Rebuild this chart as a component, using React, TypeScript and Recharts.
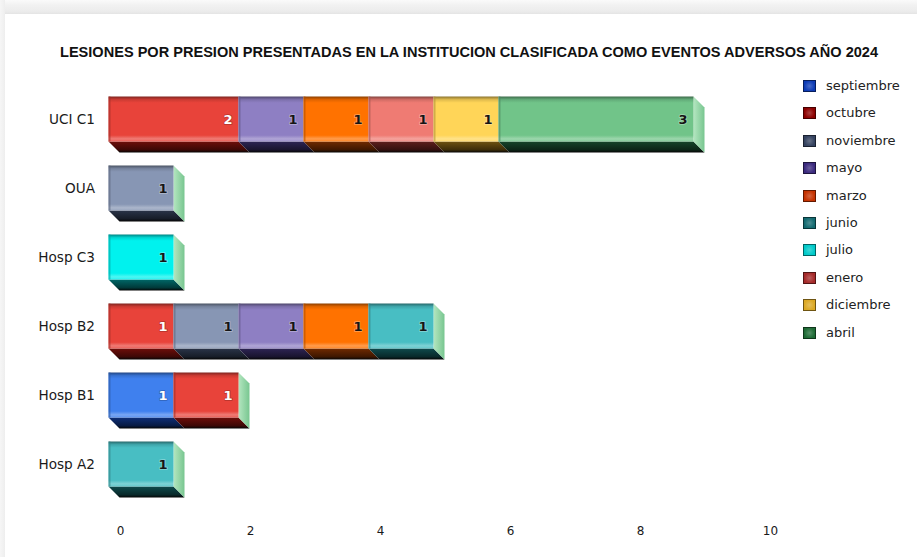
import React from "react";
import { BarChart, Bar, XAxis, YAxis } from "recharts";

// Pressure-injury events per service, broken down by month of occurrence.
const categories = ["UCI C1", "OUA", "Hosp C3", "Hosp B2", "Hosp B1", "Hosp A2"];
const months = [
  "septiembre",
  "octubre",
  "noviembre",
  "mayo",
  "marzo",
  "junio",
  "julio",
  "enero",
  "diciembre",
  "abril",
];

// values per month, in the same order as `categories`
const septiembre = [0, 0, 0, 0, 1, 0];
const octubre = [2, 0, 0, 1, 1, 0];
const noviembre = [0, 1, 0, 1, 0, 0];
const mayo = [1, 0, 0, 1, 0, 0];
const marzo = [1, 0, 0, 1, 0, 0];
const junio = [0, 0, 0, 1, 0, 1];
const julio = [0, 0, 1, 0, 0, 0];
const enero = [1, 0, 0, 0, 0, 0];
const diciembre = [1, 0, 0, 0, 0, 0];
const abril = [3, 0, 0, 0, 0, 0];

const xTicks = [0, 2, 4, 6, 8, 10];

const seriesValues: Record<string, number[]> = {
  septiembre,
  octubre,
  noviembre,
  mayo,
  marzo,
  junio,
  julio,
  enero,
  diciembre,
  abril,
};

const data = categories.map((name, i) => {
  const row: Record<string, string | number> = { name };
  months.forEach((m) => {
    row[m] = seriesValues[m][i];
  });
  return row;
});

// face colour, bottom-face colour, legend swatch colour
const palette: Record<string, { face: string; bottom: string; legend: string; text: string }> = {
  septiembre: { face: "#3f80ee", bottom: "#0f2f78", legend: "#0d3bb5", text: "#ffffff" },
  octubre: { face: "#e8433a", bottom: "#6e0e0a", legend: "#8c0000", text: "#ffffff" },
  noviembre: { face: "#8796b4", bottom: "#2a3448", legend: "#34425f", text: "#151515" },
  mayo: { face: "#8e7fc3", bottom: "#2d2454", legend: "#3b2a7e", text: "#151515" },
  marzo: { face: "#ff7200", bottom: "#702a00", legend: "#c53200", text: "#151515" },
  junio: { face: "#48bec3", bottom: "#0f4a4c", legend: "#136a70", text: "#151515" },
  julio: { face: "#00f2ee", bottom: "#006868", legend: "#00c9c9", text: "#151515" },
  enero: { face: "#ef7b73", bottom: "#5e1e1c", legend: "#a52a2a", text: "#151515" },
  diciembre: { face: "#ffd558", bottom: "#6e5210", legend: "#dba824", text: "#151515" },
  abril: { face: "#71c489", bottom: "#16452a", legend: "#1e6b35", text: "#151515" },
};

const DEPTH = 11;

function mix(hex: string, target: string, t: number): string {
  const a = parseInt(hex.slice(1), 16);
  const b = parseInt(target.slice(1), 16);
  const ch = (v: number, s: number) => (v >> s) & 255;
  const r = Math.round(ch(a, 16) + (ch(b, 16) - ch(a, 16)) * t);
  const g = Math.round(ch(a, 8) + (ch(b, 8) - ch(a, 8)) * t);
  const bl = Math.round(ch(a, 0) + (ch(b, 0) - ch(a, 0)) * t);
  return "#" + ((1 << 24) | (r << 16) | (g << 8) | bl).toString(16).slice(1);
}

function lastFilledKey(payload: Record<string, any>): string | undefined {
  const filled = months.filter((m) => Number(payload[m]) > 0);
  return filled[filled.length - 1];
}

function make3DShape(key: string) {
  return (props: any) => {
    const { x, y, width, height, payload } = props;
    if (!width || width <= 0 || !payload) return <g />;
    const value = Number(payload[key]);
    const fx = x - DEPTH;
    const fy = y - DEPTH;
    const isLast = lastFilledKey(payload) === key;
    const col = palette[key];
    const light = col.text === "#ffffff";
    return (
      <g>
        {/* bottom face */}
        <polygon
          points={`${fx},${fy + height} ${fx + width},${fy + height} ${x + width},${y + height} ${x},${y + height}`}
          fill={`url(#bottom-${key})`}
        />
        {/* right end face */}
        {isLast && (
          <polygon
            points={`${fx + width},${fy} ${x + width},${y} ${x + width},${y + height} ${fx + width},${fy + height}`}
            fill="url(#cap)"
          />
        )}
        {/* front face */}
        <rect x={fx} y={fy} width={width} height={height} fill={`url(#front-${key})`} />
        <rect x={fx} y={fy} width={2} height={height} fill={mix(col.face, "#000000", 0.3)} opacity={0.6} />
        {value > 0 && (
          <text
            x={fx + width - 6}
            y={fy + height / 2}
            dy="0.36em"
            textAnchor="end"
            fontFamily="DejaVu Sans, sans-serif"
            fontWeight="bold"
            fontSize={13}
            fill={col.text}
            stroke={light ? "rgba(0,0,0,0.25)" : "rgba(255,255,255,0.35)"}
            strokeWidth={1.5}
            paintOrder="stroke"
          >
            {value}
          </text>
        )}
      </g>
    );
  };
}

const CategoryTick = (props: any) => {
  const { y, payload } = props;
  return (
    <text
      x={95}
      y={y - DEPTH}
      dy="0.36em"
      textAnchor="end"
      fontFamily="DejaVu Sans, sans-serif"
      fontSize={13.6}
      fill="#1a1a1a"
    >
      {payload.value}
    </text>
  );
};

const ValueTick = (props: any) => {
  const { x, payload } = props;
  return (
    <text
      x={x + 1}
      y={535}
      textAnchor="middle"
      fontFamily="DejaVu Sans, sans-serif"
      fontSize={12}
      fill="#1a1a1a"
    >
      {payload.value}
    </text>
  );
};

export default function App() {
  return (
    <div
      style={{
        position: "fixed",
        left: 0,
        top: 0,
        width: 917,
        height: 557,
        background: "#ffffff",
        overflow: "hidden",
      }}
    >
      {/* card edge */}
      <div
        style={{
          position: "absolute",
          left: 0,
          top: 0,
          width: 917,
          height: 14,
          background: "linear-gradient(#fafafa 0%, #f1f1f1 40%, #ececec 80%, #e4e4e4 100%)",
        }}
      />
      <div
        style={{
          position: "absolute",
          left: 0,
          top: 0,
          width: 5,
          height: 557,
          background: "linear-gradient(90deg, #f6f6f6, #eeeeee)",
        }}
      />

      <svg style={{ position: "absolute", left: 0, top: 0 }} width={917} height={70}>
        <text
          x={60}
          y={57}
          fontFamily="Liberation Sans Narrow, Liberation Sans, sans-serif"
          fontWeight="bold"
          fontSize={15}
          fill="#111"
          textLength={818}
          lengthAdjust="spacingAndGlyphs"
        >
          LESIONES POR PRESION PRESENTADAS EN LA INSTITUCION CLASIFICADA COMO EVENTOS ADVERSOS AÑO 2024
        </text>
      </svg>

      <div style={{ position: "absolute", left: 0, top: 0 }}>
        <BarChart
          width={917}
          height={557}
          data={data}
          layout="vertical"
          margin={{ top: 95.5, right: 147.5, bottom: 17.5, left: 59.5 }}
          barSize={45}
        >
          <defs>
            {months.map((m) => {
              const c = palette[m].face;
              return (
                <linearGradient key={`f-${m}`} id={`front-${m}`} x1="0" y1="0" x2="0" y2="1">
                  <stop offset="0%" stopColor={mix(c, "#000000", 0.45)} />
                  <stop offset="7%" stopColor={mix(c, "#000000", 0.12)} />
                  <stop offset="14%" stopColor={c} />
                  <stop offset="86%" stopColor={c} />
                  <stop offset="94%" stopColor={mix(c, "#ffffff", 0.3)} />
                  <stop offset="100%" stopColor={mix(c, "#ffffff", 0.15)} />
                </linearGradient>
              );
            })}
            {months.map((m) => {
              const c = palette[m].bottom;
              return (
                <linearGradient key={`b-${m}`} id={`bottom-${m}`} x1="0" y1="0" x2="0" y2="1">
                  <stop offset="0%" stopColor={c} />
                  <stop offset="75%" stopColor={mix(c, "#000000", 0.45)} />
                  <stop offset="100%" stopColor="#050505" />
                </linearGradient>
              );
            })}
            <linearGradient id="cap" x1="0" y1="0" x2="1" y2="0">
              <stop offset="0%" stopColor="#b4e6c0" />
              <stop offset="100%" stopColor="#78c690" />
            </linearGradient>
          </defs>
          <XAxis
            type="number"
            domain={[0, 10]}
            ticks={xTicks}
            axisLine={false}
            tickLine={false}
            tick={<ValueTick />}
            height={30}
          />
          <YAxis
            type="category"
            dataKey="name"
            axisLine={false}
            tickLine={false}
            tick={<CategoryTick />}
            width={60}
          />
          {months.map((m) => (
            <Bar
              key={m}
              dataKey={m}
              stackId="total"
              fill={palette[m].face}
              shape={make3DShape(m)}
              isAnimationActive={false}
            />
          ))}
        </BarChart>
      </div>

      {/* legend */}
      {months.map((m, i) => {
        const cy = 86 + i * 27.4;
        const c = palette[m].legend;
        return (
          <div key={m} style={{ position: "absolute", left: 803, top: cy - 6, height: 12 }}>
            <div
              style={{
                position: "absolute",
                left: 0,
                top: 0,
                width: 13,
                height: 12,
                boxSizing: "border-box",
                border: `1px solid ${mix(c, "#000000", 0.5)}`,
                background: `radial-gradient(circle, ${mix(c, "#ffffff", 0.25)} 0%, ${c} 70%)`,
              }}
            />
            <div
              style={{
                position: "absolute",
                left: 23,
                top: -3,
                lineHeight: "18px",
                whiteSpace: "nowrap",
                fontFamily: "DejaVu Sans, sans-serif",
                fontSize: 13,
                color: "#222",
              }}
            >
              {m}
            </div>
          </div>
        );
      })}
    </div>
  );
}
